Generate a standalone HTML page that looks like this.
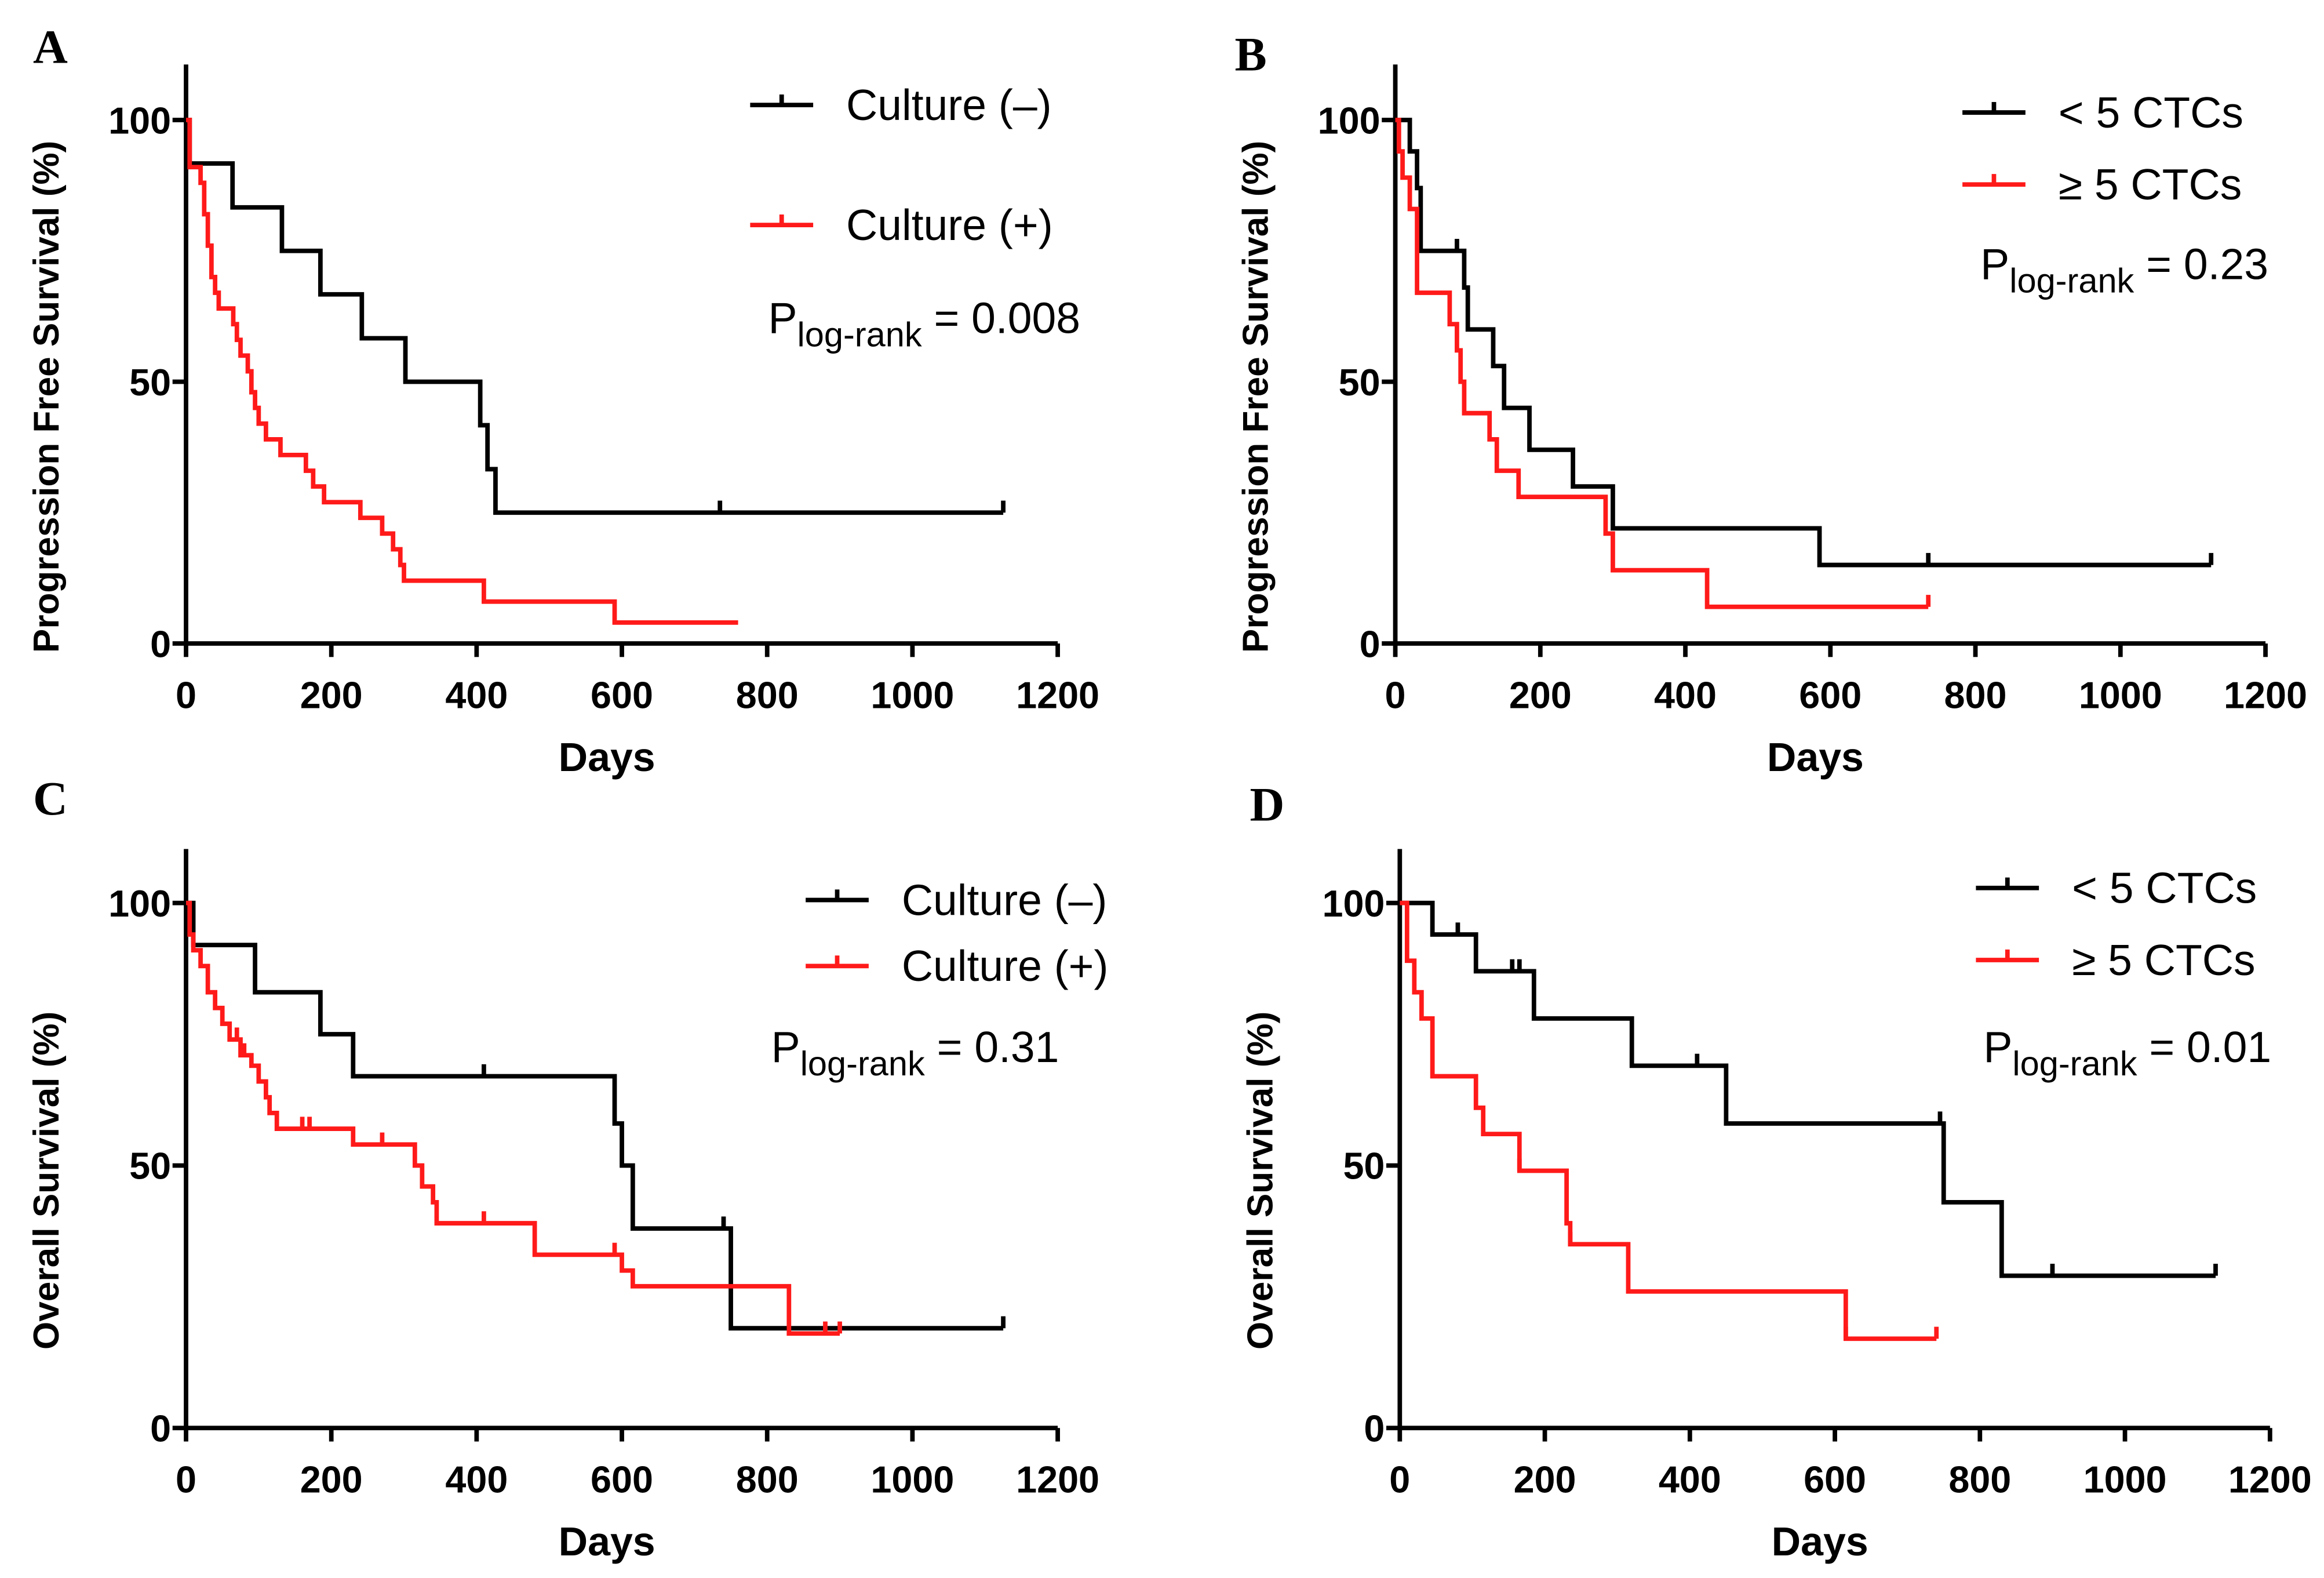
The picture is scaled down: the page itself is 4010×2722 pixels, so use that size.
<!DOCTYPE html>
<html><head><meta charset="utf-8"><style>
html,body{margin:0;padding:0;background:#fff;}
svg{display:block;}
</style></head><body>
<svg id="fig" width="4010" height="2722" viewBox="0 0 1549 1052" preserveAspectRatio="none" xmlns="http://www.w3.org/2000/svg" font-family="Liberation Sans, Arial, sans-serif"></svg>
<script>
// ---- data (days, survival %) ----
const xTicks = [0,200,400,600,800,1000,1200];
const yTicks = [0,50,100];
const aBlackT = [0,5,64,132,185,242,302,405,415,426,1125];
const aBlackS = [100,91.7,83.3,75,66.7,58.3,50,41.7,33.3,25,25];
const aBlackC = [735,1125];
const aRedT = [0,5,20,25,30,35,40,45,65,70,75,85,90,95,100,110,130,165,175,190,240,270,285,295,300,410,590,760];
const aRedS = [100,91,88,82,76,70,67,64,61,58,55,52,48,45,42,39,36,33,30,27,24,21,18,15,12,8,4,4];
const aRedC = [];
const bBlackT = [0,20,30,35,95,100,135,150,185,245,300,585,1125];
const bBlackS = [100,94,87,75,68,60,53,45,37,30,22,15,15];
const bBlackC = [85,735,1125];
const bRedT = [0,5,10,20,30,75,85,90,95,130,140,170,290,300,430,735];
const bRedS = [100,94,89,83,67,61,56,50,44,39,33,28,21,14,7,7];
const bRedC = [735];
const cBlackT = [0,10,95,185,230,590,600,615,750,1125];
const cBlackS = [100,92,83,75,67,58,50,38,19,19];
const cBlackC = [410,740,1125];
const cRedT = [0,5,10,20,30,40,50,60,75,90,100,110,115,125,230,315,325,340,345,480,600,615,830,900];
const cRedS = [100,94,91,88,83,80,77,74,71,69,66,63,60,57,54,50,46,43,39,33,30,27,18,18];
const cRedC = [70,80,160,170,270,410,590,880,900];
const dBlackT = [0,45,105,185,320,450,750,830,1125];
const dBlackS = [100,94,87,78,69,58,43,29,29];
const dBlackC = [80,155,165,410,745,900,1125];
const dRedT = [0,10,20,30,45,105,115,165,230,235,315,615,740];
const dRedS = [100,89,83,78,67,61,56,49,39,35,26,17,17];
const dRedC = [165,235,615,740];

const NS = "http://www.w3.org/2000/svg";
const svg = document.getElementById('fig');
function el(tag, attrs, parent){const e=document.createElementNS(NS,tag);for(const k in attrs)e.setAttribute(k,attrs[k]);(parent||svg).appendChild(e);return e;}
function txt(s, attrs, parent){const e=el('text',attrs,parent);e.textContent=s;return e;}

function panel(cfg){
  const g=el('g',{});
  
  
  const X=d=>cfg.x0+(cfg.x1-cfg.x0)*d/1200;
  const Y=s=>cfg.y0+(cfg.y100-cfg.y0)*s/100;
  // axes
  const ax=el('path',{d:`M${cfg.x0},${cfg.top} V${cfg.y0} H${cfg.x1}`,stroke:'#000','stroke-width':3,fill:'none'},g);
  
  
  xTicks.forEach(t=>{
    el('line',{x1:X(t),x2:X(t),y1:cfg.y0,y2:cfg.y0+9,stroke:'#000','stroke-width':3},g);
    const l=txt(String(t),{x:X(t),y:cfg.y0+43,'text-anchor':'middle','font-size':25,'font-weight':'bold'},g);
    
    
  });
  yTicks.forEach(t=>{
    el('line',{x1:cfg.x0-9,x2:cfg.x0,y1:Y(t),y2:Y(t),stroke:'#000','stroke-width':3},g);
    const l=txt(String(t),{x:cfg.x0-10,y:Y(t)+9,'text-anchor':'end','font-size':25,'font-weight':'bold'},g);
    
    
  });
  const xt=txt('Days',{x:(cfg.x0+cfg.x1)/2-10,y:cfg.y0+85,'text-anchor':'middle','font-size':27,'font-weight':'bold'},g);
  
  
  const yc=(cfg.y0+cfg.y100)/2+10;
  const yt=txt(cfg.ytitle,{x:0,y:0,transform:`translate(${cfg.x0-85},${yc}) rotate(-90)`,'text-anchor':'middle','font-size':24,'font-weight':'bold'},g);
  
  
  const lt=txt(cfg.id,{x:cfg.lx,y:cfg.ly,'font-size':32,'font-weight':'bold','font-family':'Liberation Serif, serif'},g);
  
  
  cfg.series.forEach(s=>{
    let d=`M${X(s.t[0])},${Y(s.s[0])}`;
    for(let i=1;i<s.t.length;i++){d+=` H${X(s.t[i])} V${Y(s.s[i])}`;}
    const p=el('path',{d:d,stroke:s.color,'stroke-width':3,fill:'none'},g);
    
    
    s.c.forEach(c=>{
      let v=s.s[0];for(let i=0;i<s.t.length;i++){if(s.t[i]<=c)v=s.s[i];}
      const m=el('line',{x1:X(c),x2:X(c),y1:Y(v),y2:Y(v)-8,stroke:s.color,'stroke-width':3},g);
      
      
    });
  });
  // legend
  cfg.legend.forEach((L,i)=>{
    const yy=L.y;
    const lg=el('g',{},g);
    
    
    el('line',{x1:L.x,x2:L.x+42,y1:yy,y2:yy,stroke:L.color,'stroke-width':3},lg);
    el('line',{x1:L.x+21,x2:L.x+21,y1:yy,y2:yy-7,stroke:L.color,'stroke-width':3},lg);
    txt(L.label,{x:L.x+64,y:yy+10,'font-size':29},lg);
  });
  const pg=txt('',{x:cfg.px,y:cfg.py,'font-size':29},g);
  
  
  const t1=document.createElementNS(NS,'tspan');t1.textContent='P';pg.appendChild(t1);
  const t2=document.createElementNS(NS,'tspan');t2.textContent='log-rank';t2.setAttribute('font-size',23);t2.setAttribute('dy',9);pg.appendChild(t2);
  const t3=document.createElementNS(NS,'tspan');t3.textContent=' = '+cfg.p;t3.setAttribute('dy',-9);pg.appendChild(t3);
}
const RED='#ff1a1a';
panel({id:'A',x0:124,x1:705,y0:429,y100:80,top:43,lx:22,ly:42,ytitle:'Progression Free Survival (%)',
  series:[{name:'culture-neg',color:'#000',t:aBlackT,s:aBlackS,c:aBlackC},{name:'culture-pos',color:RED,t:aRedT,s:aRedS,c:aRedC}],
  legend:[{x:500,y:70,color:'#000',label:'Culture (–)'},{x:500,y:150,color:RED,label:'Culture (+)'}],px:512,py:222,p:'0.008'});
panel({id:'B',x0:930,x1:1510,y0:429,y100:80,top:43,lx:823,ly:47,ytitle:'Progression Free Survival (%)',
  series:[{name:'lt5-ctcs',color:'#000',t:bBlackT,s:bBlackS,c:bBlackC},{name:'ge5-ctcs',color:RED,t:bRedT,s:bRedS,c:bRedC}],
  legend:[{x:1308,y:75,color:'#000',label:'< 5 CTCs'},{x:1308,y:123,color:RED,label:'≥ 5 CTCs'}],px:1320,py:186,p:'0.23'});
panel({id:'C',x0:124,x1:705,y0:952,y100:602,top:566,lx:22,ly:543,ytitle:'Overall Survival (%)',
  series:[{name:'culture-neg',color:'#000',t:cBlackT,s:cBlackS,c:cBlackC},{name:'culture-pos',color:RED,t:cRedT,s:cRedS,c:cRedC}],
  legend:[{x:537,y:600,color:'#000',label:'Culture (–)'},{x:537,y:644,color:RED,label:'Culture (+)'}],px:514,py:708,p:'0.31'});
panel({id:'D',x0:933,x1:1513,y0:952,y100:602,top:566,lx:833,ly:547,ytitle:'Overall Survival (%)',
  series:[{name:'lt5-ctcs',color:'#000',t:dBlackT,s:dBlackS,c:dBlackC},{name:'ge5-ctcs',color:RED,t:dRedT,s:dRedS,c:dRedC}],
  legend:[{x:1317,y:592,color:'#000',label:'< 5 CTCs'},{x:1317,y:640,color:RED,label:'≥ 5 CTCs'}],px:1322,py:708,p:'0.01'});
</script>
</body></html>
